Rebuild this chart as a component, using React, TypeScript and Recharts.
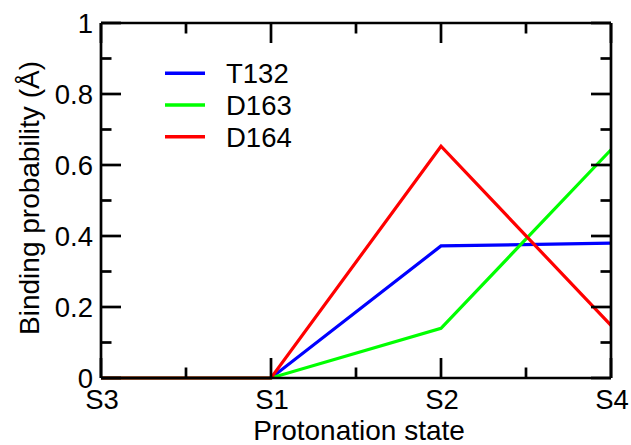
import React from 'react';
import { LineChart, Line, XAxis, YAxis, Legend } from 'recharts';

const categories = ['S3', 'S1', 'S2', 'S4'];
const t132 = [0, 0, 0.372, 0.38];
const d163 = [0, 0, 0.14, 0.643];
const d164 = [0, 0, 0.653, 0.148];
const seriesNames = ['T132', 'D163', 'D164'];
const seriesColors = ['#0000ff', '#00ff00', '#ff0000'];
const seriesValues = [t132, d163, d164];
const xTicks = [0, 0.5, 1, 1.5, 2, 2.5, 3];
const yTicks = [0, 0.1, 0.2, 0.3, 0.4, 0.5, 0.6, 0.7, 0.8, 0.9, 1];
const yTickLabels: Record<string, string> = { '0': '0', '0.2': '0.2', '0.4': '0.4', '0.6': '0.6', '0.8': '0.8', '1': '1' };
const xTitle = 'Protonation state';
const yTitle = 'Binding probability (Å)';

const data = categories.map((c, i) => {
  const row: Record<string, number | string> = { x: i, cat: c };
  seriesNames.forEach((n, k) => { row[n] = seriesValues[k][i]; });
  return row;
});

const FONT = '"Liberation Sans", Arial, Helvetica, sans-serif';
const TICK_FS = 27.5;
const MAJOR = 20;
const MINOR = 10.5;
const AXW = 2.7;

const isMajorX = (v: number) => Math.abs(v - Math.round(v)) < 1e-6;
const isMajorY = (v: number) => Math.round(v * 10) % 2 === 0;

const BottomTick = (props: any) => {
  const { x, y, payload } = props;
  const v = payload.value;
  const major = isMajorX(v);
  return (
    <g>
      <line x1={x} y1={y} x2={x} y2={y - (major ? MAJOR : MINOR)} stroke="#000" strokeWidth={AXW} />
      {major && (
        <text x={x + 1} y={y + 31} textAnchor="middle" fontSize={TICK_FS} fontFamily={FONT} fill="#000">
          {categories[Math.round(v)]}
        </text>
      )}
    </g>
  );
};

const TopTick = (props: any) => {
  const { x, y, payload } = props;
  const major = isMajorX(payload.value);
  return <line x1={x} y1={y} x2={x} y2={y + (major ? MAJOR : MINOR)} stroke="#000" strokeWidth={AXW} />;
};

const LeftTick = (props: any) => {
  const { x, y, payload } = props;
  const v = payload.value;
  const major = isMajorY(v);
  const label = yTickLabels[String(v)];
  return (
    <g>
      <line x1={x} y1={y} x2={x + (major ? MAJOR : MINOR)} y2={y} stroke="#000" strokeWidth={AXW} />
      {major && label !== undefined && (
        <text x={x - 8} y={y + 9.5} textAnchor="end" fontSize={TICK_FS} fontFamily={FONT} fill="#000">
          {label}
        </text>
      )}
    </g>
  );
};

const RightTick = (props: any) => {
  const { x, y, payload } = props;
  const major = isMajorY(payload.value);
  return <line x1={x} y1={y} x2={x - (major ? MAJOR : MINOR)} y2={y} stroke="#000" strokeWidth={AXW} />;
};

const renderLegend = () => (
  <svg width={631} height={445} style={{ position: 'absolute', left: 0, top: 0, overflow: 'visible' }}>
    {seriesNames.map((n, i) => {
      const cy = 73.3 + i * 31.7;
      return (
        <g key={n}>
          <line x1={165} y1={cy} x2={205} y2={cy} stroke={seriesColors[i]} strokeWidth={3.5} />
          <text x={226} y={cy + 10} fontSize={27.5} fontFamily={FONT} fill="#000">
            {n}
          </text>
        </g>
      );
    })}
    <text x={359} y={440} textAnchor="middle" fontSize={28} fontFamily={FONT} fill="#000">
      {xTitle}
    </text>
    <text transform="translate(39,198) rotate(-90)" textAnchor="middle" fontSize={28} fontFamily={FONT} fill="#000">
      {yTitle}
    </text>
  </svg>
);

export default function App() {
  return (
    <div style={{ position: 'absolute', left: 0, top: 0, width: 631, height: 445, background: '#fff' }}>
      <LineChart width={631} height={445} data={data} margin={{ top: 22, right: 19, bottom: 0, left: 0 }}>
        <XAxis
          dataKey="x"
          type="number"
          domain={[0, 3]}
          ticks={xTicks}
          interval={0}
          height={67}
          tickSize={0}
          tickMargin={0}
          tickLine={false}
          axisLine={{ stroke: '#000', strokeWidth: AXW }}
          tick={<BottomTick />}
        />
        <XAxis
          xAxisId="top"
          orientation="top"
          dataKey="x"
          type="number"
          domain={[0, 3]}
          ticks={xTicks}
          interval={0}
          height={1}
          tickSize={0}
          tickMargin={0}
          tickLine={false}
          axisLine={{ stroke: '#000', strokeWidth: AXW }}
          tick={<TopTick />}
        />
        <YAxis
          type="number"
          domain={[0, 1]}
          ticks={yTicks}
          interval={0}
          width={101}
          tickSize={0}
          tickMargin={0}
          tickLine={false}
          axisLine={{ stroke: '#000', strokeWidth: AXW }}
          tick={<LeftTick />}
        />
        <YAxis
          yAxisId="right"
          orientation="right"
          type="number"
          domain={[0, 1]}
          ticks={yTicks}
          interval={0}
          width={1}
          tickSize={0}
          tickMargin={0}
          tickLine={false}
          axisLine={{ stroke: '#000', strokeWidth: AXW }}
          tick={<RightTick />}
        />
        <Line
          xAxisId="top"
          yAxisId="right"
          dataKey={seriesNames[0]}
          stroke="none"
          strokeWidth={0}
          dot={false}
          activeDot={false}
          legendType="none"
          isAnimationActive={false}
        />
        {seriesNames.map((n, i) => (
          <Line
            key={n}
            dataKey={n}
            name={n}
            type="linear"
            stroke={seriesColors[i]}
            strokeWidth={3.2}
            dot={false}
            activeDot={false}
            isAnimationActive={false}
          />
        ))}
        <Legend
          layout="horizontal"
          verticalAlign="middle"
          align="center"
          content={renderLegend}
          wrapperStyle={{ left: 0, top: 0, width: 631, height: 445, pointerEvents: 'none' }}
        />
      </LineChart>
    </div>
  );
}
